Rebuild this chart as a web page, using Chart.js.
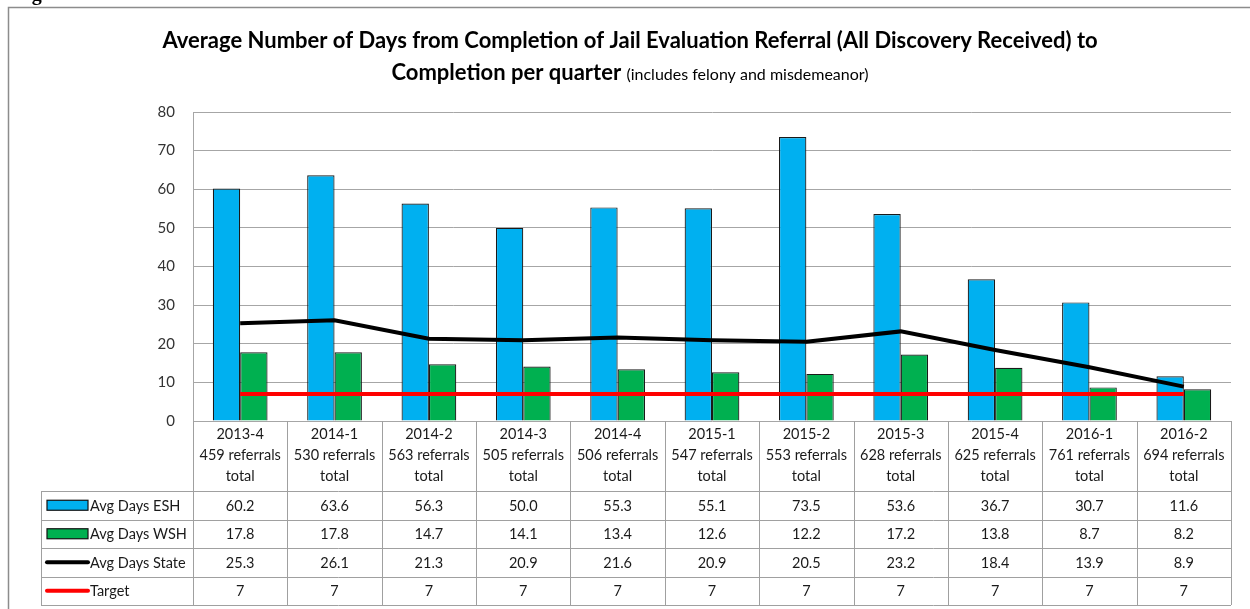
<!DOCTYPE html>
<html>
<head>
<meta charset="utf-8">
<script src="https://cdn.jsdelivr.net/npm/chart.js"></script>
<style>
  html, body { margin: 0; padding: 0; background: #fff; }
  #wrap { width: 1250px; height: 609px; }
</style>
</head>
<body>
<div id="wrap"><canvas id="chart" width="1250" height="609"></canvas></div>
<script>
const quarters = ['2013-4', '2014-1', '2014-2', '2014-3', '2014-4', '2015-1', '2015-2', '2015-3', '2015-4', '2016-1', '2016-2'];
const referrals = [459, 530, 563, 505, 506, 547, 553, 628, 625, 761, 694];
const eshDays = [60.2, 63.6, 56.3, 50.0, 55.3, 55.1, 73.5, 53.6, 36.7, 30.7, 11.6];
const wshDays = [17.8, 17.8, 14.7, 14.1, 13.4, 12.6, 12.2, 17.2, 13.8, 8.7, 8.2];
const stateDays = [25.3, 26.1, 21.3, 20.9, 21.6, 20.9, 20.5, 23.2, 18.4, 13.9, 8.9];
const target = [7, 7, 7, 7, 7, 7, 7, 7, 7, 7, 7];
const yTicks = [0, 10, 20, 30, 40, 50, 60, 70, 80];

const FONT = 'Lato, "Open Sans", sans-serif';
const GRID = '#a6a6a6';
const ESH = '#00b0f0', WSH = '#00b050';

const rows = [
  { label: 'Avg Days ESH', kind: 'bar', color: ESH, values: eshDays.map(v => v.toFixed(1)) },
  { label: 'Avg Days WSH', kind: 'bar', color: WSH, values: wshDays.map(v => v.toFixed(1)) },
  { label: 'Avg Days State', kind: 'line', color: '#000', values: stateDays.map(v => v.toFixed(1)) },
  { label: 'Target', kind: 'line', color: '#ff0000', values: target.map(String) }
];

// title, outer frame and data table underneath the plot
const extras = {
  id: 'extras',
  beforeDraw(chart) {
    const ctx = chart.ctx;
    ctx.save();
    ctx.fillStyle = '#fff';
    ctx.fillRect(0, 0, chart.width, chart.height);
    ctx.fillStyle = '#000';
    ctx.font = 'bold 20px "Liberation Serif", serif';
    ctx.textBaseline = 'alphabetic';
    ctx.fillText('Figure 6', 14, 0);
    ctx.strokeStyle = '#8c8c8c';
    ctx.lineWidth = 1.5;
    ctx.strokeRect(8.5, 7.5, 1260, 620);

    ctx.fillStyle = '#000';
    ctx.textBaseline = 'middle';
    ctx.textAlign = 'center';
    ctx.font = 'bold 22px ' + FONT;
    ctx.fillText('Average Number of Days from Completion of Jail Evaluation Referral (All Discovery Received) to', 630, 41);
    const t1 = 'Completion per quarter ';
    const t2 = '(includes felony and misdemeanor)';
    ctx.font = 'bold 22px ' + FONT;
    const w1 = ctx.measureText(t1).width;
    ctx.font = '16px ' + FONT;
    const w2 = ctx.measureText(t2).width;
    let x0 = 630 - (w1 + w2) / 2;
    ctx.textAlign = 'left';
    ctx.font = 'bold 22px ' + FONT;
    ctx.fillText(t1, x0, 73);
    ctx.font = '16px ' + FONT;
    ctx.fillText(t2, x0 + w1, 75);
    ctx.restore();
  },
  afterDraw(chart) {
    const ctx = chart.ctx;
    const area = chart.chartArea;
    const xs = chart.scales.x;
    const n = quarters.length;
    const colW = (area.right - area.left) / n;
    const top = area.bottom;
    const headH = 70, rowH = 28.5;
    const legendLeft = 41;
    const tableBottom = top + headH + rowH * rows.length;

    ctx.save();
    ctx.strokeStyle = '#a0a0a0';
    ctx.lineWidth = 1;
    // horizontal lines
    for (let r = 0; r <= rows.length; r++) {
      const y = Math.round(top + headH + r * rowH) + 0.5;
      ctx.beginPath();
      ctx.moveTo(legendLeft, y);
      ctx.lineTo(area.right, y);
      ctx.stroke();
    }
    // vertical lines
    for (let i = 0; i <= n; i++) {
      const x = Math.round(area.left + i * colW) + 0.5;
      ctx.beginPath();
      ctx.moveTo(x, top);
      ctx.lineTo(x, tableBottom);
      ctx.stroke();
    }
    ctx.beginPath();
    ctx.moveTo(legendLeft + 0.5, top + headH);
    ctx.lineTo(legendLeft + 0.5, tableBottom);
    ctx.stroke();

    ctx.fillStyle = '#1a1a1a';
    ctx.textAlign = 'center';
    ctx.textBaseline = 'middle';
    ctx.font = '14.5px ' + FONT;
    for (let i = 0; i < n; i++) {
      const cx = xs.getPixelForValue(i);
      ctx.fillText(quarters[i], cx, top + 13);
      ctx.fillText(referrals[i] + ' referrals', cx, top + 34);
      ctx.fillText('total', cx, top + 55);
      rows.forEach((row, r) => {
        ctx.fillText(row.values[i], cx, top + headH + r * rowH + rowH / 2 + 1);
      });
    }
    // legend keys
    ctx.textAlign = 'left';
    rows.forEach((row, r) => {
      const cy = top + headH + r * rowH + rowH / 2;
      if (row.kind === 'bar') {
        ctx.fillStyle = row.color;
        ctx.fillRect(47, cy - 5, 41, 10);
        ctx.strokeStyle = '#111';
        ctx.lineWidth = 1.2;
        ctx.strokeRect(47, cy - 5, 41, 10);
      } else {
        ctx.strokeStyle = row.color;
        ctx.lineWidth = 4;
        ctx.lineCap = 'round';
        ctx.beginPath();
        ctx.moveTo(47, cy);
        ctx.lineTo(88, cy);
        ctx.stroke();
      }
      ctx.fillStyle = '#1a1a1a';
      ctx.fillText(row.label, 90, cy + 1);
    });
    ctx.restore();
  }
};

new Chart(document.getElementById('chart'), {
  data: {
    labels: quarters,
    datasets: [
      { type: 'line', label: 'Avg Days State', data: stateDays, borderColor: '#000', borderWidth: 4, pointRadius: 0, tension: 0, order: 1 },
      { type: 'line', label: 'Target', data: target, borderColor: '#ff0000', borderWidth: 4, pointRadius: 0, tension: 0, order: 0 },
      { type: 'bar', label: 'Avg Days ESH', data: eshDays, backgroundColor: ESH, borderColor: '#1a1a1a', borderWidth: 1.2, order: 2 },
      { type: 'bar', label: 'Avg Days WSH', data: wshDays, backgroundColor: WSH, borderColor: '#1a1a1a', borderWidth: 1.2, order: 3 }
    ]
  },
  options: {
    responsive: false,
    animation: false,
    layout: { padding: { top: 112, bottom: 188, left: 0, right: 19 } },
    datasets: { bar: { barPercentage: 1, categoryPercentage: 0.58 } },
    plugins: { legend: { display: false }, title: { display: false }, tooltip: { enabled: false } },
    scales: {
      x: { display: false, offset: true },
      y: {
        min: 0, max: 80,
        afterFit(scale) { scale.width = 193; },
        afterBuildTicks(scale) { scale.ticks = yTicks.map(v => ({ value: v })); },
        ticks: { color: '#333', font: { family: FONT, size: 15 }, padding: 18 },
        grid: { color: GRID, lineWidth: 1, drawTicks: false },
        border: { display: true, color: GRID, width: 1 }
      }
    }
  },
  plugins: [extras]
});
</script>
</body>
</html>
